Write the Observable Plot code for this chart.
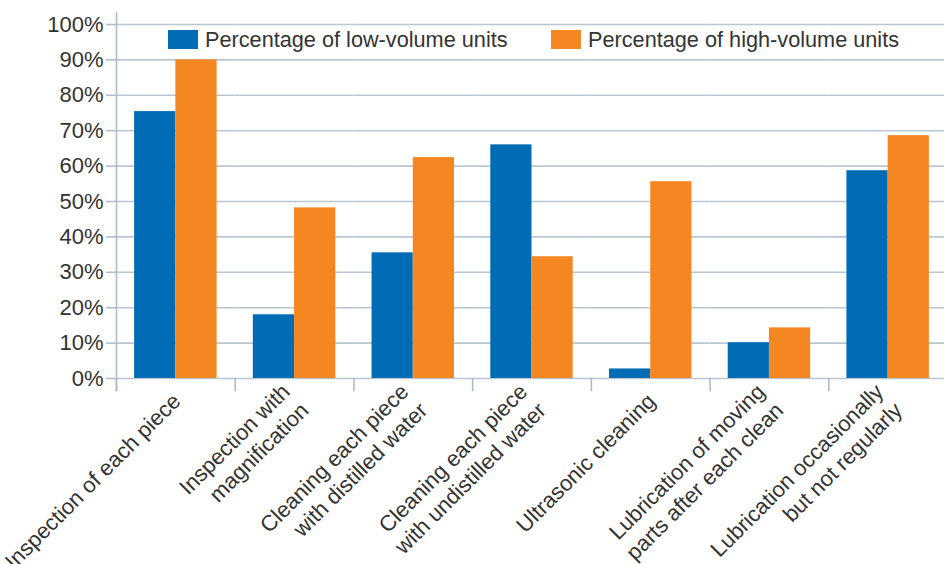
<!DOCTYPE html>
<html>
<head>
<meta charset="utf-8">
<script src="https://cdn.jsdelivr.net/npm/d3@7"></script>
<script src="https://cdn.jsdelivr.net/npm/@observablehq/plot@0.6"></script>
<style>
  html, body { margin: 0; padding: 0; background: #fff; }
  #wrap { position: relative; width: 944px; height: 564px; font-family: "Liberation Sans", Arial, sans-serif; color: #333; }
  .leg { position: absolute; top: 30px; display: flex; align-items: center; font-size: 21.7px; line-height: 19px; color: #333; white-space: nowrap; }
  .sw { width: 30px; height: 19px; margin-right: 7px; }
</style>
</head>
<body>
<div id="wrap"></div>
<script>
const categories = [
  "Inspection of each piece",
  "Inspection with\nmagnification",
  "Cleaning each piece\nwith distilled water",
  "Cleaning each piece\nwith undistilled water",
  "Ultrasonic cleaning",
  "Lubrication of moving\nparts after each clean",
  "Lubrication occasionally\nbut not regularly"
];
const lowVolume = [75.4, 18, 35.5, 66, 2.7, 10.1, 58.7];
const highVolume = [90, 48.2, 62.4, 34.4, 55.6, 14.3, 68.6];
const seriesKeys = ["low", "high"];
const seriesNames = ["Percentage of low-volume units", "Percentage of high-volume units"];
const seriesColors = ["#006cb6", "#f58722"];
const yTicks = [0, 10, 20, 30, 40, 50, 60, 70, 80, 90, 100];

const rows = [];
categories.forEach((c, i) => {
  rows.push({category: c, series: "low", value: lowVolume[i]});
  rows.push({category: c, series: "high", value: highVolume[i]});
});

const grid = "#b9c7d1";
const axisCol = "#aebdc8";

const chart = Plot.plot({
  width: 944,
  height: 564,
  marginLeft: 116,
  marginTop: 24,
  marginBottom: 186,
  marginRight: -3,
  style: {fontFamily: "'Liberation Sans', Arial, sans-serif", fontSize: "22px", color: "#333", background: "#fff"},
  fx: {domain: categories, paddingInner: 0, paddingOuter: 0, round: false, axis: null, label: null},
  x: {domain: seriesKeys, paddingInner: 0, paddingOuter: 0.44, round: false, axis: null, label: null},
  y: {domain: [0, 100], axis: null, label: null},
  color: {domain: seriesKeys, range: seriesColors},
  marks: [
    Plot.gridY(yTicks, {stroke: grid, strokeOpacity: 1, strokeWidth: 1.6}),
    Plot.barY(rows, {fx: "category", x: "series", y: "value", fill: "series"}),
    Plot.axisY(yTicks, {
      tickSize: 10, tickPadding: 3, stroke: axisCol, strokeWidth: 1.6,
      tickFormat: d => d + "%", fontSize: 22, fill: "#333", label: null
    }),
    Plot.frame({facet: "super", anchor: "left", insetTop: -12, insetBottom: -12, stroke: axisCol, strokeWidth: 1.6}),
    Plot.frame({anchor: "left", insetTop: 354, insetBottom: -12, stroke: axisCol, strokeWidth: 1.6}),
    Plot.text(categories, {
      fx: d => d, text: d => d, frameAnchor: "bottom",
      rotate: -45, textAnchor: "end", lineAnchor: "middle", lineHeight: 1.2,
      dx: 0, dy: 18, fontSize: 22, fill: "#333"
    })
  ]
});

const wrap = document.getElementById("wrap");
wrap.appendChild(chart);

const legendLefts = [168, 551];
seriesNames.forEach((name, i) => {
  const item = document.createElement("div");
  item.className = "leg";
  item.style.left = legendLefts[i] + "px";
  const sw = document.createElement("div");
  sw.className = "sw";
  sw.style.background = seriesColors[i];
  const tx = document.createElement("span");
  tx.textContent = name;
  item.appendChild(sw);
  item.appendChild(tx);
  wrap.appendChild(item);
});
</script>
</body>
</html>
